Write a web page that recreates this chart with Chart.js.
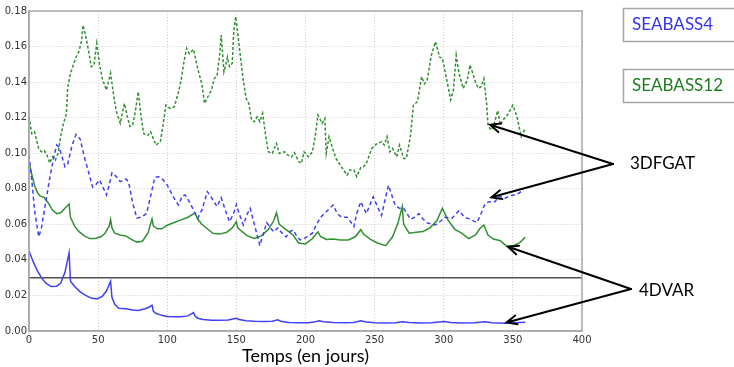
<!DOCTYPE html>
<html>
<head>
<meta charset="utf-8">
<script src="https://cdn.jsdelivr.net/npm/chart.js@4.4.1/dist/chart.umd.min.js"></script>
<style>
    html, body { margin: 0; padding: 0; background: #ffffff; }
    #wrap { width: 734px; height: 367px; position: relative; }
</style>
</head>
<body>
<div id="wrap"><canvas id="rmsChart"></canvas></div>
<script>
// axis ticks
const xTicks = [0, 50, 100, 150, 200, 250, 300, 350, 400];
const yTicks = [0, 0.02, 0.04, 0.06, 0.08, 0.10, 0.12, 0.14, 0.16, 0.18];
const xTitle = 'Temps (en jours)';

// SEABASS4 4DVAR (blue, solid)
const s4VarDays = [0, 3, 6, 9, 12, 16, 20, 23, 26, 29, 30, 33, 37, 41, 45, 49, 53, 56, 59, 60, 62, 65, 70, 75, 79, 84, 87, 89, 90, 92, 96, 100, 105, 110, 115, 119, 120, 122, 126, 132, 138, 144, 150, 152, 157, 163, 170, 176, 180, 182, 188, 195, 202, 207, 210, 213, 220, 228, 235, 240, 243, 250, 258, 265, 270, 275, 283, 291, 300, 305, 313, 322, 330, 335, 345, 352, 359];
const s4VarVals = [0.045, 0.039, 0.034, 0.030, 0.027, 0.025, 0.0252, 0.027, 0.033, 0.044, 0.028, 0.025, 0.022, 0.020, 0.0185, 0.018, 0.0195, 0.0225, 0.028, 0.019, 0.015, 0.0128, 0.0125, 0.0118, 0.0115, 0.0125, 0.0135, 0.0145, 0.011, 0.0098, 0.0088, 0.0082, 0.008, 0.008, 0.0085, 0.0103, 0.0085, 0.0072, 0.0065, 0.006, 0.006, 0.0062, 0.0072, 0.0065, 0.0058, 0.0055, 0.0053, 0.0055, 0.0063, 0.0055, 0.0048, 0.0046, 0.0047, 0.0052, 0.0058, 0.0052, 0.0048, 0.0046, 0.0048, 0.0058, 0.0052, 0.0047, 0.0045, 0.0047, 0.0052, 0.0048, 0.0045, 0.0046, 0.0053, 0.0048, 0.0045, 0.0046, 0.0052, 0.0047, 0.0044, 0.0046, 0.0049];

// SEABASS12 4DVAR (green, solid)
const s12VarDays = [0, 2, 4, 6, 8, 11, 14, 17, 20, 23, 26, 29, 30, 33, 36, 40, 44, 48, 52, 55, 58, 59, 60, 62, 66, 70, 74, 78, 82, 86, 89, 90, 93, 96, 100, 105, 110, 115, 118, 120, 122, 125, 129, 133, 138, 143, 147, 150, 151, 154, 158, 163, 168, 173, 177, 179, 181, 186, 191, 195, 200, 205, 209, 211, 215, 220, 225, 231, 236, 240, 242, 247, 252, 258, 263, 267, 270, 271, 275, 280, 285, 290, 295, 299, 303, 308, 313, 318, 323, 326, 329, 332, 336, 341, 345, 350, 355, 359];
const s12VarVals = [0.095, 0.088, 0.082, 0.078, 0.076, 0.075, 0.072, 0.068, 0.066, 0.0665, 0.069, 0.0714, 0.064, 0.059, 0.056, 0.0535, 0.052, 0.052, 0.053, 0.055, 0.059, 0.0628, 0.058, 0.055, 0.054, 0.0535, 0.0515, 0.050, 0.0505, 0.055, 0.063, 0.059, 0.0575, 0.0575, 0.0595, 0.061, 0.0625, 0.064, 0.0655, 0.0665, 0.063, 0.060, 0.0575, 0.055, 0.0545, 0.0555, 0.058, 0.0615, 0.058, 0.056, 0.0535, 0.052, 0.0535, 0.057, 0.062, 0.0665, 0.060, 0.057, 0.054, 0.0495, 0.049, 0.052, 0.0558, 0.053, 0.0515, 0.0518, 0.0512, 0.0512, 0.053, 0.057, 0.0545, 0.0515, 0.0495, 0.048, 0.053, 0.061, 0.070, 0.060, 0.055, 0.0555, 0.056, 0.058, 0.062, 0.069, 0.0625, 0.0572, 0.055, 0.052, 0.054, 0.0575, 0.0596, 0.054, 0.0517, 0.0508, 0.048, 0.0478, 0.0497, 0.0527];

// SEABASS4 3DFGAT (blue, dashed)
const s4FgatDays = [0, 2, 4, 7, 9, 12, 15, 18, 20, 22, 26, 28, 31, 34, 37, 40, 43, 46, 48, 51, 54, 56, 58, 60, 63, 66, 70, 72, 75, 78, 81, 85, 88, 91, 94, 97, 100, 104, 108, 111, 113, 116, 119, 122, 125, 129, 132, 136, 139, 142, 145, 148, 150, 152, 155, 158, 160, 163, 167, 170, 172, 175, 177, 180, 182, 186, 189, 191, 194, 196, 199, 201, 205, 208, 211, 215, 220, 223, 226, 230, 233, 235, 237, 240, 244, 249, 252, 255, 257, 260, 263, 265, 268, 271, 276, 279, 282, 285, 288, 294, 298, 301, 306, 311, 315, 318, 324, 327, 330, 333, 337, 340, 344, 348, 352, 356, 358];
const s4FgatVals = [0.099, 0.085, 0.068, 0.053, 0.058, 0.072, 0.086, 0.098, 0.1046, 0.103, 0.0924, 0.094, 0.104, 0.1106, 0.108, 0.098, 0.0896, 0.081, 0.082, 0.085, 0.080, 0.0765, 0.082, 0.089, 0.087, 0.084, 0.0855, 0.084, 0.072, 0.0635, 0.064, 0.066, 0.076, 0.0864, 0.0868, 0.085, 0.082, 0.076, 0.0709, 0.0761, 0.0765, 0.0727, 0.068, 0.0634, 0.068, 0.0784, 0.075, 0.070, 0.075, 0.068, 0.0615, 0.066, 0.0712, 0.066, 0.0596, 0.066, 0.069, 0.060, 0.048, 0.056, 0.061, 0.0577, 0.0558, 0.058, 0.056, 0.053, 0.056, 0.0568, 0.053, 0.0512, 0.052, 0.053, 0.055, 0.060, 0.064, 0.0671, 0.0709, 0.066, 0.064, 0.064, 0.061, 0.0587, 0.066, 0.0727, 0.066, 0.0755, 0.070, 0.065, 0.072, 0.082, 0.075, 0.0705, 0.069, 0.069, 0.0628, 0.064, 0.066, 0.063, 0.0608, 0.0596, 0.062, 0.064, 0.0634, 0.0677, 0.064, 0.0632, 0.061, 0.066, 0.0718, 0.0727, 0.0727, 0.0758, 0.0745, 0.0762, 0.0765, 0.0784, 0.079];

// SEABASS12 3DFGAT (green, dashed)
const s12FgatDays = [0, 2, 4, 7, 9, 11, 13, 15, 17, 19, 21, 23, 25, 27, 28, 30, 32, 34, 36, 38, 39, 41, 43, 45, 47, 49, 51, 53, 56, 59, 61, 63, 66, 69, 71, 73, 75, 77, 79, 81, 83, 86, 88, 90, 92, 95, 97, 99, 102, 105, 108, 110, 112, 114, 116, 119, 122, 125, 127, 130, 132, 134, 136, 138, 139, 141, 142, 143.5, 145, 147, 148, 149.5, 151, 153, 155, 157, 159, 161, 163, 165, 167, 169, 171, 173, 176, 179, 181, 185, 187, 190, 192, 195, 197, 199, 202, 205, 207, 209, 212, 214, 215, 217, 220, 222, 226, 230, 232, 235, 237, 240, 242, 244, 248, 251, 255, 257, 259, 261, 263, 266, 268, 271, 273, 276, 278, 281, 284, 286, 288, 291, 294, 297, 299, 302, 305, 307, 309, 311, 314, 317, 319, 323, 325, 327, 329, 331, 332, 334, 336, 339, 341, 343, 346, 350, 353, 356, 359];
const s12FgatVals = [0.1205, 0.111, 0.1121, 0.1027, 0.1008, 0.1015, 0.099, 0.0945, 0.098, 0.096, 0.100, 0.110, 0.117, 0.122, 0.137, 0.145, 0.1495, 0.154, 0.157, 0.163, 0.172, 0.166, 0.158, 0.1487, 0.1496, 0.1618, 0.150, 0.142, 0.1355, 0.145, 0.134, 0.124, 0.1168, 0.128, 0.121, 0.115, 0.1159, 0.124, 0.1346, 0.121, 0.111, 0.110, 0.1121, 0.108, 0.1046, 0.1065, 0.116, 0.127, 0.1252, 0.126, 0.134, 0.141, 0.151, 0.159, 0.156, 0.1584, 0.1477, 0.139, 0.128, 0.1327, 0.1355, 0.142, 0.1434, 0.156, 0.1665, 0.1458, 0.1487, 0.154, 0.1487, 0.1505, 0.1674, 0.1768, 0.1674, 0.154, 0.141, 0.131, 0.128, 0.1187, 0.1177, 0.1205, 0.1177, 0.1224, 0.111, 0.1008, 0.0999, 0.1055, 0.0999, 0.1008, 0.099, 0.098, 0.1003, 0.0953, 0.0943, 0.1008, 0.098, 0.1008, 0.1093, 0.1215, 0.1168, 0.1196, 0.100, 0.1093, 0.1018, 0.0971, 0.0924, 0.0877, 0.0906, 0.0906, 0.0868, 0.092, 0.0924, 0.0943, 0.1027, 0.105, 0.1065, 0.1046, 0.1093, 0.1008, 0.1027, 0.098, 0.1046, 0.0971, 0.0971, 0.1102, 0.127, 0.129, 0.143, 0.139, 0.141, 0.155, 0.1627, 0.154, 0.1535, 0.142, 0.130, 0.1355, 0.155, 0.145, 0.1365, 0.141, 0.1496, 0.140, 0.1365, 0.1374, 0.142, 0.128, 0.1159, 0.113, 0.115, 0.124, 0.1159, 0.1187, 0.1215, 0.127, 0.1205, 0.1093, 0.114];

// horizontal reference level
const refLevel = 0.03;

// annotation labels and the curve points they point to [day, value]
const legendNames = ['SEABASS4', 'SEABASS12'];
const methodNames = ['3DFGAT', '4DVAR'];
const fgatTargets = [[333.5, 0.116], [334.5, 0.0752]];
const varTargets = [[346.5, 0.0474], [345.5, 0.0048]];

const BLUE = '#4040f6';
const GREEN = '#319031';

function toPoints(days, vals) {
    return days.map((d, i) => ({ x: d, y: vals[i] }));
}

function arrow(ctx, x0, y0, x1, y1) {
    const ang = Math.atan2(y1 - y0, x1 - x0);
    const head = 11;
    ctx.beginPath();
    ctx.moveTo(x0, y0);
    ctx.lineTo(x1, y1);
    ctx.moveTo(x1 - head * Math.cos(ang - 0.42), y1 - head * Math.sin(ang - 0.42));
    ctx.lineTo(x1, y1);
    ctx.lineTo(x1 - head * Math.cos(ang + 0.42), y1 - head * Math.sin(ang + 0.42));
    ctx.stroke();
}

const annotations = {
    id: 'annotations',
    afterDraw(chart) {
        const ctx = chart.ctx;
        const a = chart.chartArea;
        const xs = chart.scales.x;
        const ys = chart.scales.y;

        ctx.save();

        // frame around the plot
        ctx.strokeStyle = '#a8a8a8';
        ctx.lineWidth = 1.5;
        ctx.strokeRect(a.left, a.top, a.right - a.left, a.bottom - a.top);

        // legend boxes
        ctx.strokeStyle = '#a6a6a6';
        ctx.lineWidth = 1.5;
        ctx.fillStyle = '#ffffff';
        ctx.fillRect(623, 8, 120, 33);
        ctx.strokeRect(623.5, 8.5, 120, 33);
        ctx.fillRect(623, 69, 120, 33);
        ctx.strokeRect(623.5, 69.5, 120, 33);

        ctx.font = '17px Lato';
        ctx.textBaseline = 'middle';
        ctx.textAlign = 'left';
        ctx.fillStyle = '#3434f0';
        ctx.fillText(legendNames[0], 632, 25);
        ctx.fillStyle = '#1f7d1f';
        ctx.fillText(legendNames[1], 632, 86);

        ctx.fillStyle = '#000000';
        ctx.fillText(methodNames[0], 630, 164);
        ctx.fillText(methodNames[1], 639, 291);

        // arrows
        ctx.strokeStyle = '#000000';
        ctx.lineWidth = 2;
        ctx.lineCap = 'round';
        fgatTargets.forEach(t => {
            arrow(ctx, 613, 164, xs.getPixelForValue(t[0]), ys.getPixelForValue(t[1]));
        });
        varTargets.forEach(t => {
            arrow(ctx, 631, 289, xs.getPixelForValue(t[0]), ys.getPixelForValue(t[1]));
        });

        ctx.restore();
    }
};

document.addEventListener('DOMContentLoaded', () => {

    const canvas = document.getElementById('rmsChart');

    new Chart(canvas, {
        type: 'line',
        data: {
            datasets: [
                {
                    label: 'SEABASS4 3DFGAT',
                    data: toPoints(s4FgatDays, s4FgatVals),
                    borderColor: BLUE,
                    borderWidth: 1.5,
                    borderDash: [4, 3]
                },
                {
                    label: 'SEABASS12 3DFGAT',
                    data: toPoints(s12FgatDays, s12FgatVals),
                    borderColor: GREEN,
                    borderWidth: 1.5,
                    borderDash: [3, 2]
                },
                {
                    label: 'SEABASS4 4DVAR',
                    data: toPoints(s4VarDays, s4VarVals),
                    borderColor: BLUE,
                    borderWidth: 1.5
                },
                {
                    label: 'SEABASS12 4DVAR',
                    data: toPoints(s12VarDays, s12VarVals),
                    borderColor: GREEN,
                    borderWidth: 1.5
                },
                {
                    label: 'ref',
                    data: [{ x: xTicks[0], y: refLevel }, { x: xTicks[xTicks.length - 1], y: refLevel }],
                    borderColor: '#505050',
                    borderWidth: 1.5
                }
            ]
        },
        options: {
            responsive: true,
            maintainAspectRatio: false,
            animation: false,
            events: [],
            layout: {
                padding: { left: 0, right: 152, top: 11, bottom: 0 }
            },
            elements: {
                point: { radius: 0 },
                line: { tension: 0, fill: false }
            },
            plugins: {
                legend: { display: false },
                tooltip: { enabled: false }
            },
            scales: {
                x: {
                    type: 'linear',
                    min: xTicks[0],
                    max: xTicks[xTicks.length - 1],
                    afterBuildTicks: s => { s.ticks = xTicks.map(v => ({ value: v })); },
                    afterFit: s => { s.height = 36; },
                    grid: {
                        color: '#cfcfcf',
                        tickLength: 0,
                        drawTicks: false
                    },
                    border: { color: '#a8a8a8', width: 1.5, dash: [1, 2] },
                    ticks: {
                        padding: 3,
                        color: '#333333',
                        font: { family: 'DejaVu Sans', size: 10 },
                        maxRotation: 0
                    },
                    title: {
                        display: true,
                        text: xTitle,
                        color: '#000000',
                        font: { family: 'Lato', size: 18 },
                        padding: { top: 0, bottom: 0 }
                    }
                },
                y: {
                    min: yTicks[0],
                    max: yTicks[yTicks.length - 1],
                    afterBuildTicks: s => { s.ticks = yTicks.map(v => ({ value: v })); },
                    afterFit: s => { s.width = 29; },
                    grid: {
                        color: '#cfcfcf',
                        tickLength: 0,
                        drawTicks: false
                    },
                    border: { color: '#a8a8a8', width: 1.5, dash: [1, 2] },
                    ticks: {
                        padding: 2,
                        color: '#333333',
                        font: { family: 'DejaVu Sans', size: 10 },
                        callback: v => v.toFixed(2)
                    }
                }
            }
        },
        plugins: [annotations]
    });
});
</script>
</body>
</html>
